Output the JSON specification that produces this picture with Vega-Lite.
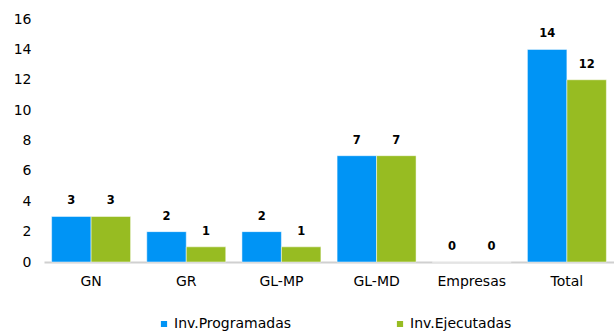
{
  "$schema": "https://vega.github.io/schema/vega-lite/v6.json",
  "width": 570,
  "height": 243,
  "padding": {"left": 13, "top": 12, "right": 0, "bottom": 0},
  "autosize": {"type": "pad"},
  "config": {"view": {"stroke": null}, "font": "DejaVu Sans"},
  "data": {"values": [
    {"cat": "GN", "serie": "Inv.Programadas", "v": 3},
    {"cat": "GN", "serie": "Inv.Ejecutadas", "v": 3},
    {"cat": "GR", "serie": "Inv.Programadas", "v": 2},
    {"cat": "GR", "serie": "Inv.Ejecutadas", "v": 1},
    {"cat": "GL-MP", "serie": "Inv.Programadas", "v": 2},
    {"cat": "GL-MP", "serie": "Inv.Ejecutadas", "v": 1},
    {"cat": "GL-MD", "serie": "Inv.Programadas", "v": 7},
    {"cat": "GL-MD", "serie": "Inv.Ejecutadas", "v": 7},
    {"cat": "Empresas", "serie": "Inv.Programadas", "v": 0},
    {"cat": "Empresas", "serie": "Inv.Ejecutadas", "v": 0},
    {"cat": "Total", "serie": "Inv.Programadas", "v": 14},
    {"cat": "Total", "serie": "Inv.Ejecutadas", "v": 12}
  ]},
  "encoding": {
    "x": {"field": "cat", "type": "nominal", "sort": null,
      "scale": {"paddingInner": 0.17, "paddingOuter": 0.08},
      "axis": {"title": null, "labelAngle": 0, "labelFontSize": 14, "labelColor": "#000", "domainColor": "#d0d0d0", "domainWidth": 2, "ticks": false, "labelPadding": 12}},
    "xOffset": {"field": "serie", "type": "nominal", "sort": ["Inv.Programadas", "Inv.Ejecutadas"]},
    "y": {"field": "v", "type": "quantitative",
      "scale": {"domain": [0, 16]},
      "axis": {"title": null, "values": [0,2,4,6,8,10,12,14,16], "grid": false, "domain": false, "ticks": false, "labelFontSize": 14, "labelColor": "#000", "labelPadding": 13}}
  },
  "layer": [
    {"mark": {"type": "bar", "stroke": "white", "strokeWidth": 0.5},
      "encoding": {"color": {"field": "serie", "type": "nominal", "sort": ["Inv.Programadas", "Inv.Ejecutadas"],
        "scale": {"domain": ["Inv.Programadas", "Inv.Ejecutadas"], "range": ["#0094F5", "#97BC22"]},
        "legend": {"title": null, "orient": "none", "legendX": 113, "legendY": 298, "direction": "horizontal", "symbolType": "square", "symbolSize": 60, "labelFontSize": 14, "labelColor": "#000", "columnPadding": 101, "symbolOffset": 0, "labelOffset": 3}}}},
    {"mark": {"type": "text", "fontWeight": "bold", "fontSize": 11.5, "baseline": "bottom", "dy": -10, "color": "#000"},
      "encoding": {"text": {"field": "v", "type": "quantitative"}}}
  ]
}
